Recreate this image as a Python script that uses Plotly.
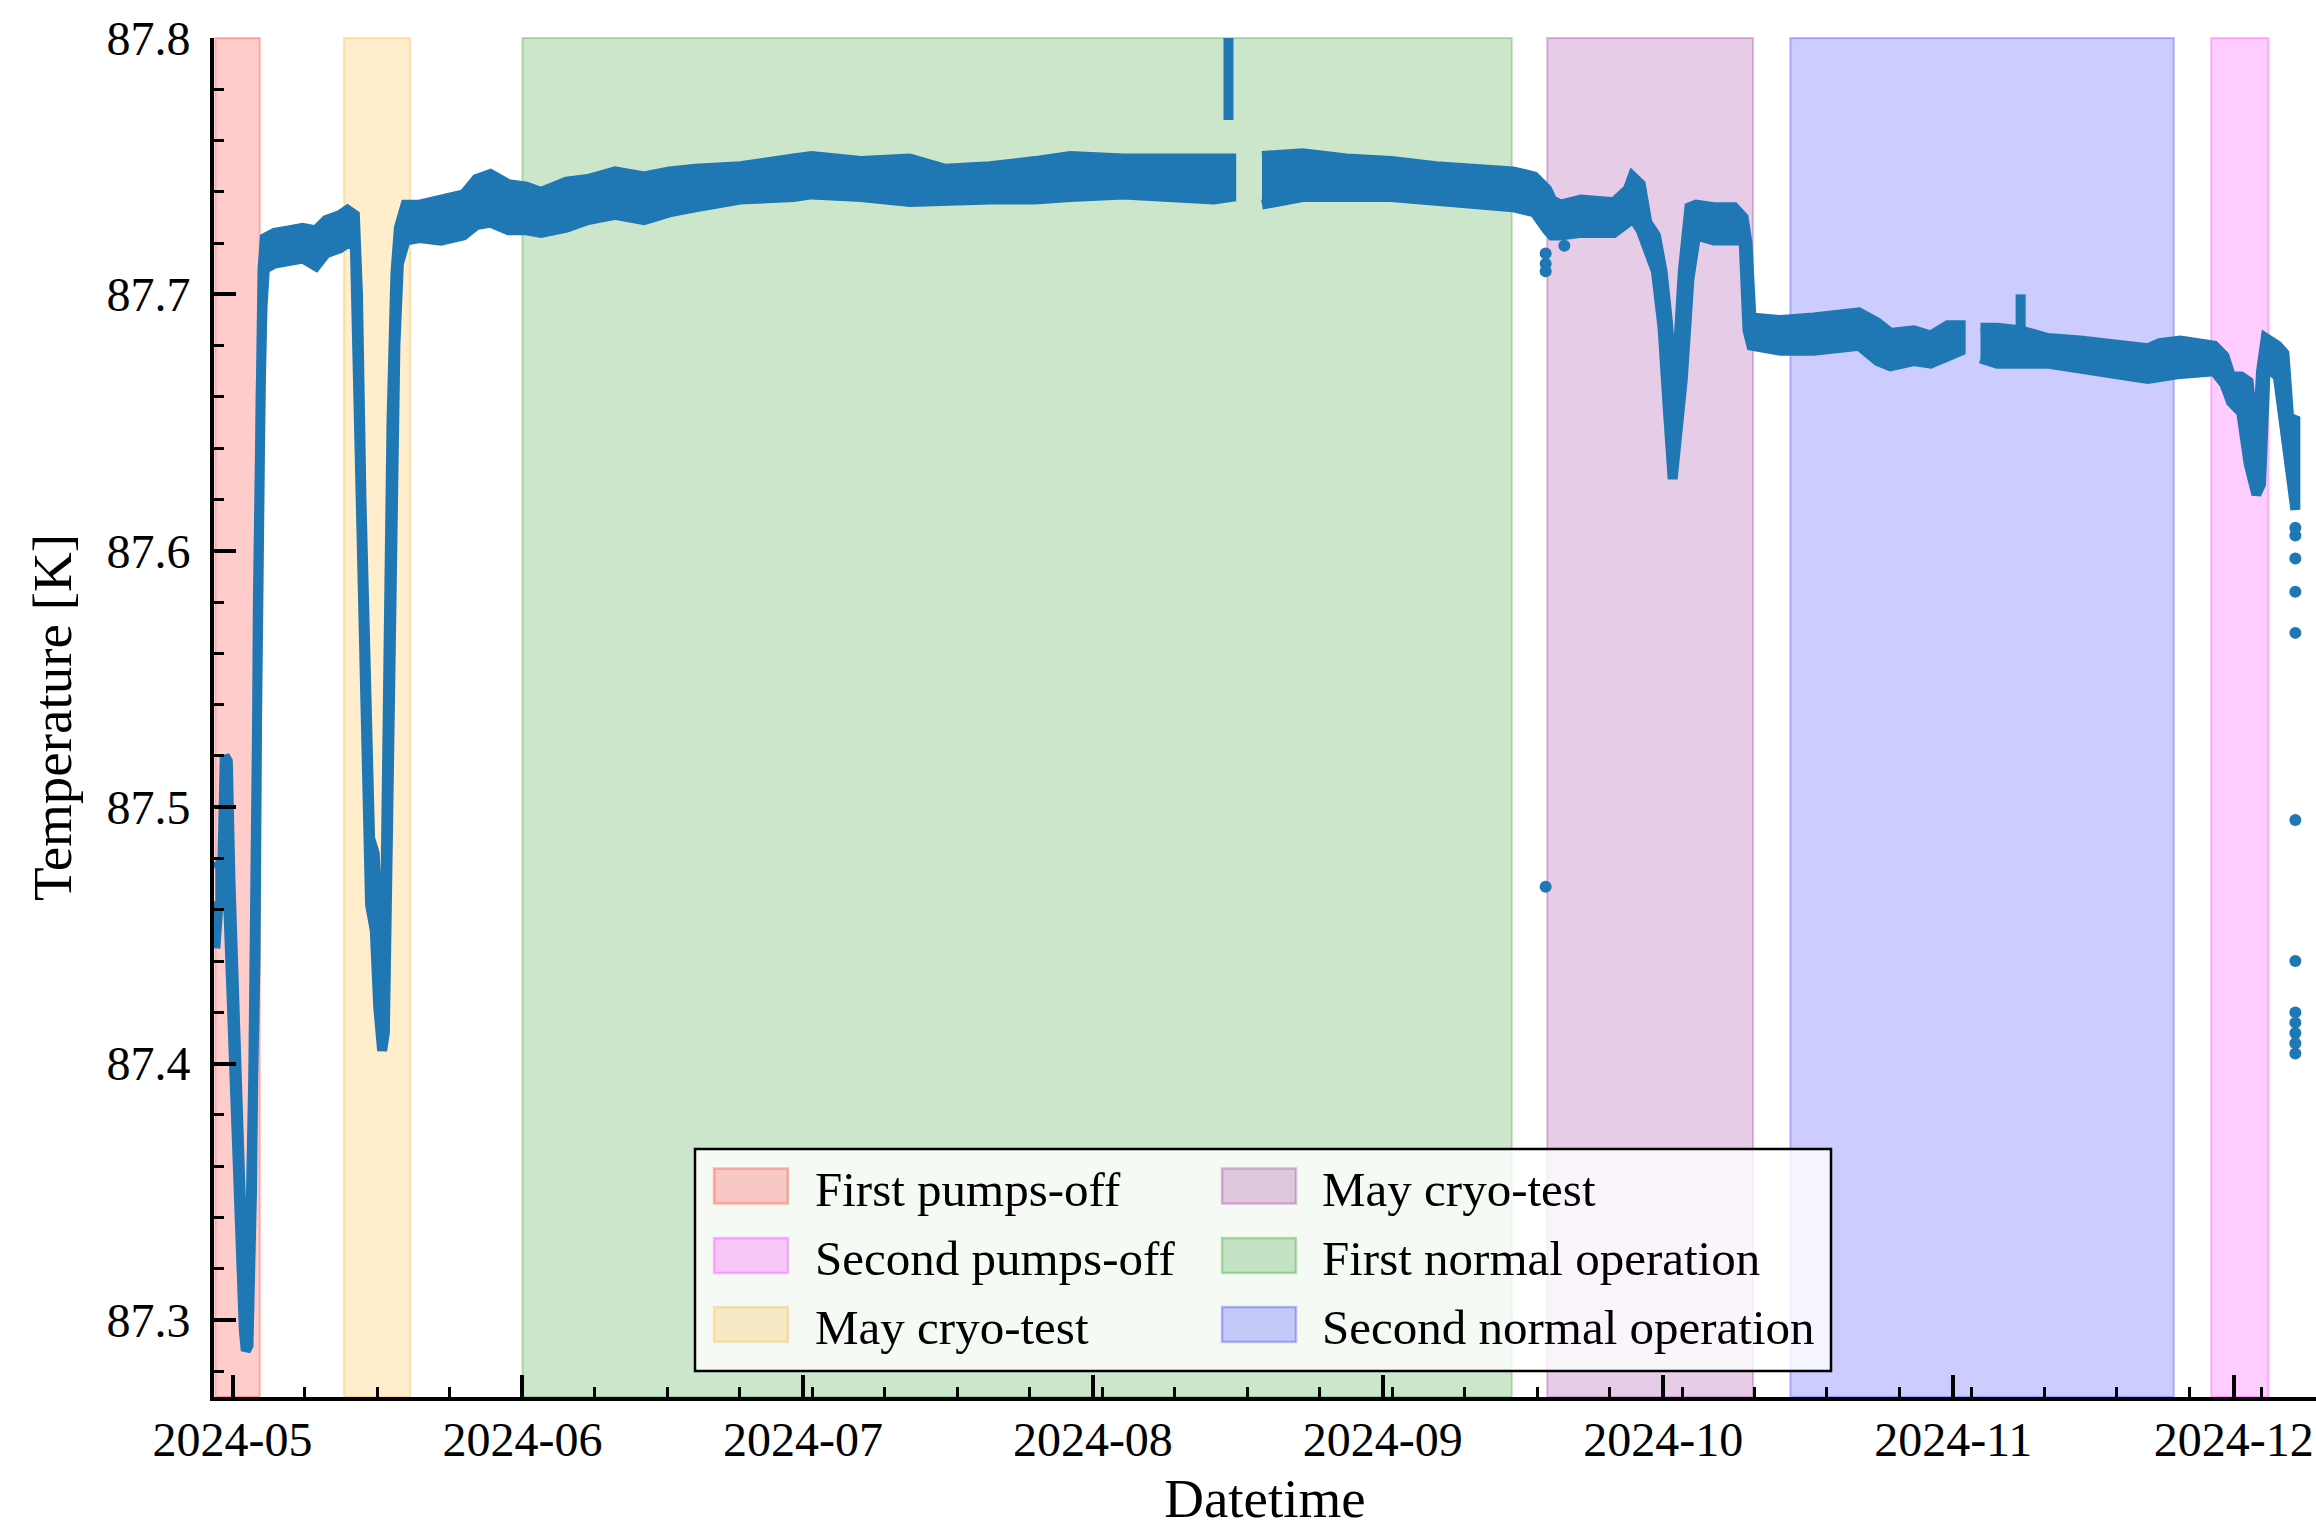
import plotly.graph_objects as go

# ---------------------------------------------------------------------------
# LAr temperature readout, summarised as the upper / lower edge of the
# (noisy) sensor trace at each timestamp.
# ---------------------------------------------------------------------------

# Run 1: 29 Apr - 15 Aug (ends at the August outage)
run1_time = [
    "2024-04-29 04:00", "2024-04-29 12:00", "2024-04-29 22:00", "2024-04-30 04:00",
    "2024-04-30 12:00", "2024-04-30 19:00", "2024-05-01 07:00", "2024-05-01 17:00",
    "2024-05-02 05:00", "2024-05-02 10:00", "2024-05-02 17:00", "2024-05-03 02:00",
    "2024-05-03 11:00", "2024-05-03 17:00", "2024-05-04 00:00", "2024-05-04 05:00",
    "2024-05-04 11:00", "2024-05-05 12:00", "2024-05-07 00:00", "2024-05-08 12:00",
    "2024-05-09 22:00", "2024-05-11 00:00", "2024-05-12 12:00", "2024-05-13 07:00",
    "2024-05-14 02:00", "2024-05-14 10:00", "2024-05-14 19:00", "2024-05-15 07:00",
    "2024-05-15 17:00", "2024-05-16 05:00", "2024-05-16 14:00", "2024-05-17 00:00",
    "2024-05-17 07:00", "2024-05-17 14:00", "2024-05-18 00:00", "2024-05-18 10:00",
    "2024-05-18 19:00", "2024-05-19 12:00", "2024-05-21 00:00", "2024-05-23 07:00",
    "2024-05-25 17:00", "2024-05-27 02:00", "2024-05-28 14:00", "2024-05-30 12:00",
    "2024-06-01 10:00", "2024-06-03 00:00", "2024-06-05 17:00", "2024-06-08 00:00",
    "2024-06-10 22:00", "2024-06-14 00:00", "2024-06-16 17:00", "2024-06-19 12:00",
    "2024-06-24 07:00", "2024-06-30 00:00", "2024-07-01 22:00", "2024-07-07 05:00",
    "2024-07-12 10:00", "2024-07-16 05:00", "2024-07-21 00:00", "2024-07-25 19:00",
    "2024-07-29 14:00", "2024-08-04 07:00", "2024-08-09 02:00", "2024-08-13 22:00",
    "2024-08-15 19:00",
]
run1_upper = [
    87.476, 87.478, 87.479, 87.520,
    87.518, 87.470, 87.410, 87.362,
    87.302, 87.288, 87.300, 87.370,
    87.440, 87.580, 87.680, 87.710,
    87.722, 87.724, 87.725, 87.726,
    87.725, 87.729, 87.731, 87.733,
    87.731, 87.700, 87.620, 87.560,
    87.488, 87.482, 87.458, 87.420,
    87.450, 87.550, 87.650, 87.708,
    87.726, 87.735, 87.735, 87.737,
    87.739, 87.745, 87.747, 87.743,
    87.742, 87.740, 87.744, 87.745,
    87.748, 87.746, 87.748, 87.749,
    87.750, 87.753, 87.754, 87.752,
    87.753, 87.749, 87.750, 87.752,
    87.754, 87.753, 87.753, 87.753,
    87.753,
]
run1_lower = [
    87.445, 87.462, 87.463, 87.466,
    87.466, 87.458, 87.402, 87.354,
    87.296, 87.288, 87.290, 87.350,
    87.420, 87.550, 87.660, 87.695,
    87.710, 87.712, 87.713, 87.714,
    87.711, 87.716, 87.718, 87.720,
    87.719, 87.682, 87.602, 87.532,
    87.462, 87.452, 87.422, 87.405,
    87.412, 87.480, 87.600, 87.680,
    87.712, 87.721, 87.722, 87.721,
    87.723, 87.727, 87.728, 87.725,
    87.725, 87.724, 87.726, 87.729,
    87.731, 87.729, 87.732, 87.734,
    87.737, 87.738, 87.739, 87.738,
    87.736, 87.736, 87.737, 87.737,
    87.738, 87.739, 87.738, 87.737,
    87.738,
]

# Run 2: 19 Aug - 1 Nov (ends at the November outage)
run2_time = [
    "2024-08-19 02:00", "2024-08-23 10:00", "2024-08-28 02:00", "2024-09-01 22:00",
    "2024-09-06 17:00", "2024-09-11 12:00", "2024-09-14 22:00", "2024-09-17 05:00",
    "2024-09-18 14:00", "2024-09-19 02:00", "2024-09-20 00:00", "2024-09-22 05:00",
    "2024-09-25 17:00", "2024-09-27 05:00", "2024-09-27 17:00", "2024-09-28 14:00",
    "2024-09-29 07:00", "2024-09-30 05:00", "2024-09-30 22:00", "2024-10-01 12:00",
    "2024-10-02 00:00", "2024-10-02 12:00", "2024-10-03 02:00", "2024-10-03 19:00",
    "2024-10-04 12:00", "2024-10-06 10:00", "2024-10-08 14:00", "2024-10-09 14:00",
    "2024-10-10 00:00", "2024-10-10 10:00", "2024-10-13 14:00", "2024-10-17 02:00",
    "2024-10-21 22:00", "2024-10-23 22:00", "2024-10-25 07:00", "2024-10-27 19:00",
    "2024-10-29 14:00", "2024-10-31 10:00", "2024-11-01 19:00",
]
run2_upper = [
    87.754, 87.755, 87.753, 87.752,
    87.750, 87.749, 87.748, 87.746,
    87.741, 87.737, 87.735, 87.737,
    87.736, 87.741, 87.746, 87.743,
    87.728, 87.723, 87.709, 87.689,
    87.663, 87.674, 87.709, 87.734,
    87.735, 87.734, 87.734, 87.730,
    87.720, 87.691, 87.690, 87.691,
    87.693, 87.689, 87.685, 87.686,
    87.684, 87.688, 87.688,
]
run2_lower = [
    87.735, 87.738, 87.738, 87.738,
    87.737, 87.735, 87.734, 87.732,
    87.725, 87.723, 87.723, 87.724,
    87.724, 87.728, 87.730, 87.725,
    87.718, 87.709, 87.687, 87.654,
    87.628, 87.648, 87.667, 87.706,
    87.723, 87.721, 87.721, 87.721,
    87.686, 87.680, 87.678, 87.678,
    87.680, 87.674, 87.672, 87.674,
    87.673, 87.676, 87.678,
]

# Run 3: 3 Nov - 7 Dec
run3_time = [
    "2024-11-03 22:00", "2024-11-05 17:00", "2024-11-08 05:00", "2024-11-11 02:00",
    "2024-11-14 14:00", "2024-11-18 05:00", "2024-11-21 19:00", "2024-11-23 02:00",
    "2024-11-25 07:00", "2024-11-28 22:00", "2024-11-30 00:00", "2024-11-30 17:00",
    "2024-12-01 19:00", "2024-12-02 14:00", "2024-12-03 10:00", "2024-12-03 22:00",
    "2024-12-04 10:00", "2024-12-05 17:00", "2024-12-06 10:00", "2024-12-06 22:00",
    "2024-12-07 14:00",
]
run3_upper = [
    87.687, 87.687, 87.686, 87.683,
    87.682, 87.680, 87.679, 87.681,
    87.682, 87.680, 87.676, 87.668,
    87.668, 87.666, 87.636, 87.670,
    87.683, 87.680, 87.677, 87.652,
    87.651,
]
run3_lower = [
    87.675, 87.673, 87.673, 87.673,
    87.671, 87.669, 87.667, 87.668,
    87.669, 87.670, 87.665, 87.658,
    87.654, 87.634, 87.622, 87.626,
    87.672, 87.668, 87.654, 87.634,
    87.616,
]

# Short excursions (vertical streaks of readings)
spike_time = ["2024-08-15 12:00", "2024-11-08 05:00"]
spike_low = [87.768, 87.686]
spike_high = [87.810, 87.700]

# Isolated readings
single_time = [
    "2024-09-18 10:00", "2024-09-18 10:00", "2024-09-18 10:00", "2024-09-18 10:00",
    "2024-09-20 10:00",
    "2024-12-07 14:00", "2024-12-07 14:00", "2024-12-07 14:00", "2024-12-07 14:00",
    "2024-12-07 14:00", "2024-12-07 14:00", "2024-12-07 14:00", "2024-12-07 14:00",
    "2024-12-07 14:00", "2024-12-07 14:00", "2024-12-07 14:00", "2024-12-07 14:00",
]
single_temp = [
    87.716, 87.712, 87.709, 87.469,
    87.719,
    87.609, 87.606, 87.597, 87.584,
    87.568, 87.495, 87.440, 87.420,
    87.416, 87.412, 87.408, 87.404,
]

# Detector operation periods
period_labels = [
    "First pumps-off", "Second pumps-off", "May cryo-test",
    "May cryo-test", "First normal operation", "Second normal operation",
]
period_start = [
    "2024-04-29 04:00", "2024-11-28 14:00", "2024-05-12 22:00",
    "2024-09-18 14:00", "2024-06-01 00:00", "2024-10-14 14:00",
]
period_end = [
    "2024-05-03 22:00", "2024-12-04 17:00", "2024-05-20 00:00",
    "2024-10-10 14:00", "2024-09-14 19:00", "2024-11-24 14:00",
]

# ---------------------------------------------------------------------------
# Styling
# ---------------------------------------------------------------------------
PERIOD_RGB = ["255,0,0", "255,0,255", "255,165,0", "128,0,128", "0,128,0", "0,0,255"]
TRACE_COLOR = "#1f77b4"
FONT = "Liberation Serif"

W, H = 2316, 1529
M_L, M_R, M_T, M_B = 214, 0, 38, 132
PW, PH = W - M_L - M_R, H - M_T - M_B


def px_x(px):
    return (px - M_L) / PW


def px_y(py):
    return (H - M_B - py) / PH


fig = go.Figure()


def add_band(times, upper, lower):
    xs = list(times) + list(times)[::-1]
    ys = list(upper) + list(lower)[::-1]
    fig.add_trace(go.Scatter(
        x=xs, y=ys, mode="lines", fill="toself", fillcolor=TRACE_COLOR,
        line=dict(color=TRACE_COLOR, width=10), hoverinfo="skip", showlegend=False,
    ))


add_band(run1_time, run1_upper, run1_lower)
add_band(run2_time, run2_upper, run2_lower)
add_band(run3_time, run3_upper, run3_lower)

for t, lo, hi in zip(spike_time, spike_low, spike_high):
    fig.add_trace(go.Scatter(
        x=[t, t], y=[lo, hi], mode="lines",
        line=dict(color=TRACE_COLOR, width=10), hoverinfo="skip", showlegend=False,
    ))

fig.add_trace(go.Scatter(
    x=single_time, y=single_temp, mode="markers",
    marker=dict(color=TRACE_COLOR, size=12, line=dict(width=0)),
    showlegend=False,
))

# Shaded operation periods
shapes = []
for s, e, rgb in zip(period_start, period_end, PERIOD_RGB):
    shapes.append(dict(
        type="rect", xref="x", yref="paper", x0=s, x1=e, y0=0, y1=1,
        fillcolor=f"rgba({rgb},0.2)", line=dict(color=f"rgba({rgb},0.25)", width=2),
        layer="below",
    ))

# Legend frame and entries (two columns, three rows)
LEG_X0, LEG_X1, LEG_Y0, LEG_Y1 = 695, 1831, 1149, 1371
shapes.append(dict(
    type="rect", xref="paper", yref="paper",
    x0=px_x(LEG_X0), x1=px_x(LEG_X1), y0=px_y(LEG_Y1), y1=px_y(LEG_Y0),
    fillcolor="rgba(255,255,255,0.8)", line=dict(color="black", width=2.5), layer="above",
))
col_patch_x = [714, 1222]
col_text_x = [813, 1320]
row_center_y = [1186, 1255.5, 1324.5]
annotations = []
for i, (label, rgb) in enumerate(zip(period_labels, PERIOD_RGB)):
    c, r = divmod(i, 3)
    cy = row_center_y[r]
    shapes.append(dict(
        type="rect", xref="paper", yref="paper",
        x0=px_x(col_patch_x[c]), x1=px_x(col_patch_x[c] + 74),
        y0=px_y(cy + 17.5), y1=px_y(cy - 17.5),
        fillcolor=f"rgba({rgb},0.2)", line=dict(color=f"rgba({rgb},0.25)", width=2.5),
        layer="above",
    ))
    annotations.append(dict(
        xref="paper", yref="paper", x=px_x(col_text_x[c]), y=px_y(cy + 3),
        xanchor="left", yanchor="middle", text=label, showarrow=False,
        font=dict(family=FONT, size=49, color="black"),
    ))

axis_common = dict(
    showline=True, linecolor="black", linewidth=4, mirror=False,
    ticks="inside", tickcolor="black", ticklen=22, tickwidth=3.5,
    showgrid=False, zeroline=False,
    tickfont=dict(family=FONT, size=48, color="black"),
)

fig.update_layout(
    width=W, height=H,
    margin=dict(l=M_L, r=M_R, t=M_T, b=M_B),
    paper_bgcolor="white", plot_bgcolor="white",
    font=dict(family=FONT, color="black"),
    showlegend=False,
    shapes=shapes,
    annotations=annotations,
    xaxis=dict(
        **axis_common,
        type="date",
        range=["2024-04-29 00:30", "2024-12-09 19:00"],
        dtick="M1", tick0="2024-05-01", tickformat="%Y-%m",
        ticklabelstandoff=-3,
        minor=dict(ticks="inside", ticklen=10, tickwidth=2.5, tickcolor="black",
                   dtick=7.75 * 86400000, tick0="2024-05-01", showgrid=False),
        title=dict(text="Datetime", font=dict(family=FONT, size=55, color="black"), standoff=24),
    ),
    yaxis=dict(
        **axis_common,
        range=[87.27, 87.8],
        dtick=0.1, tick0=87.3, tickformat=".1f",
        ticklabelstandoff=10,
        minor=dict(ticks="inside", ticklen=10, tickwidth=2.5, tickcolor="black",
                   dtick=0.02, tick0=87.3, showgrid=False),
        title=dict(text="Temperature [K]", font=dict(family=FONT, size=55, color="black"), standoff=18),
    ),
)

fig.write_html("out.html")
